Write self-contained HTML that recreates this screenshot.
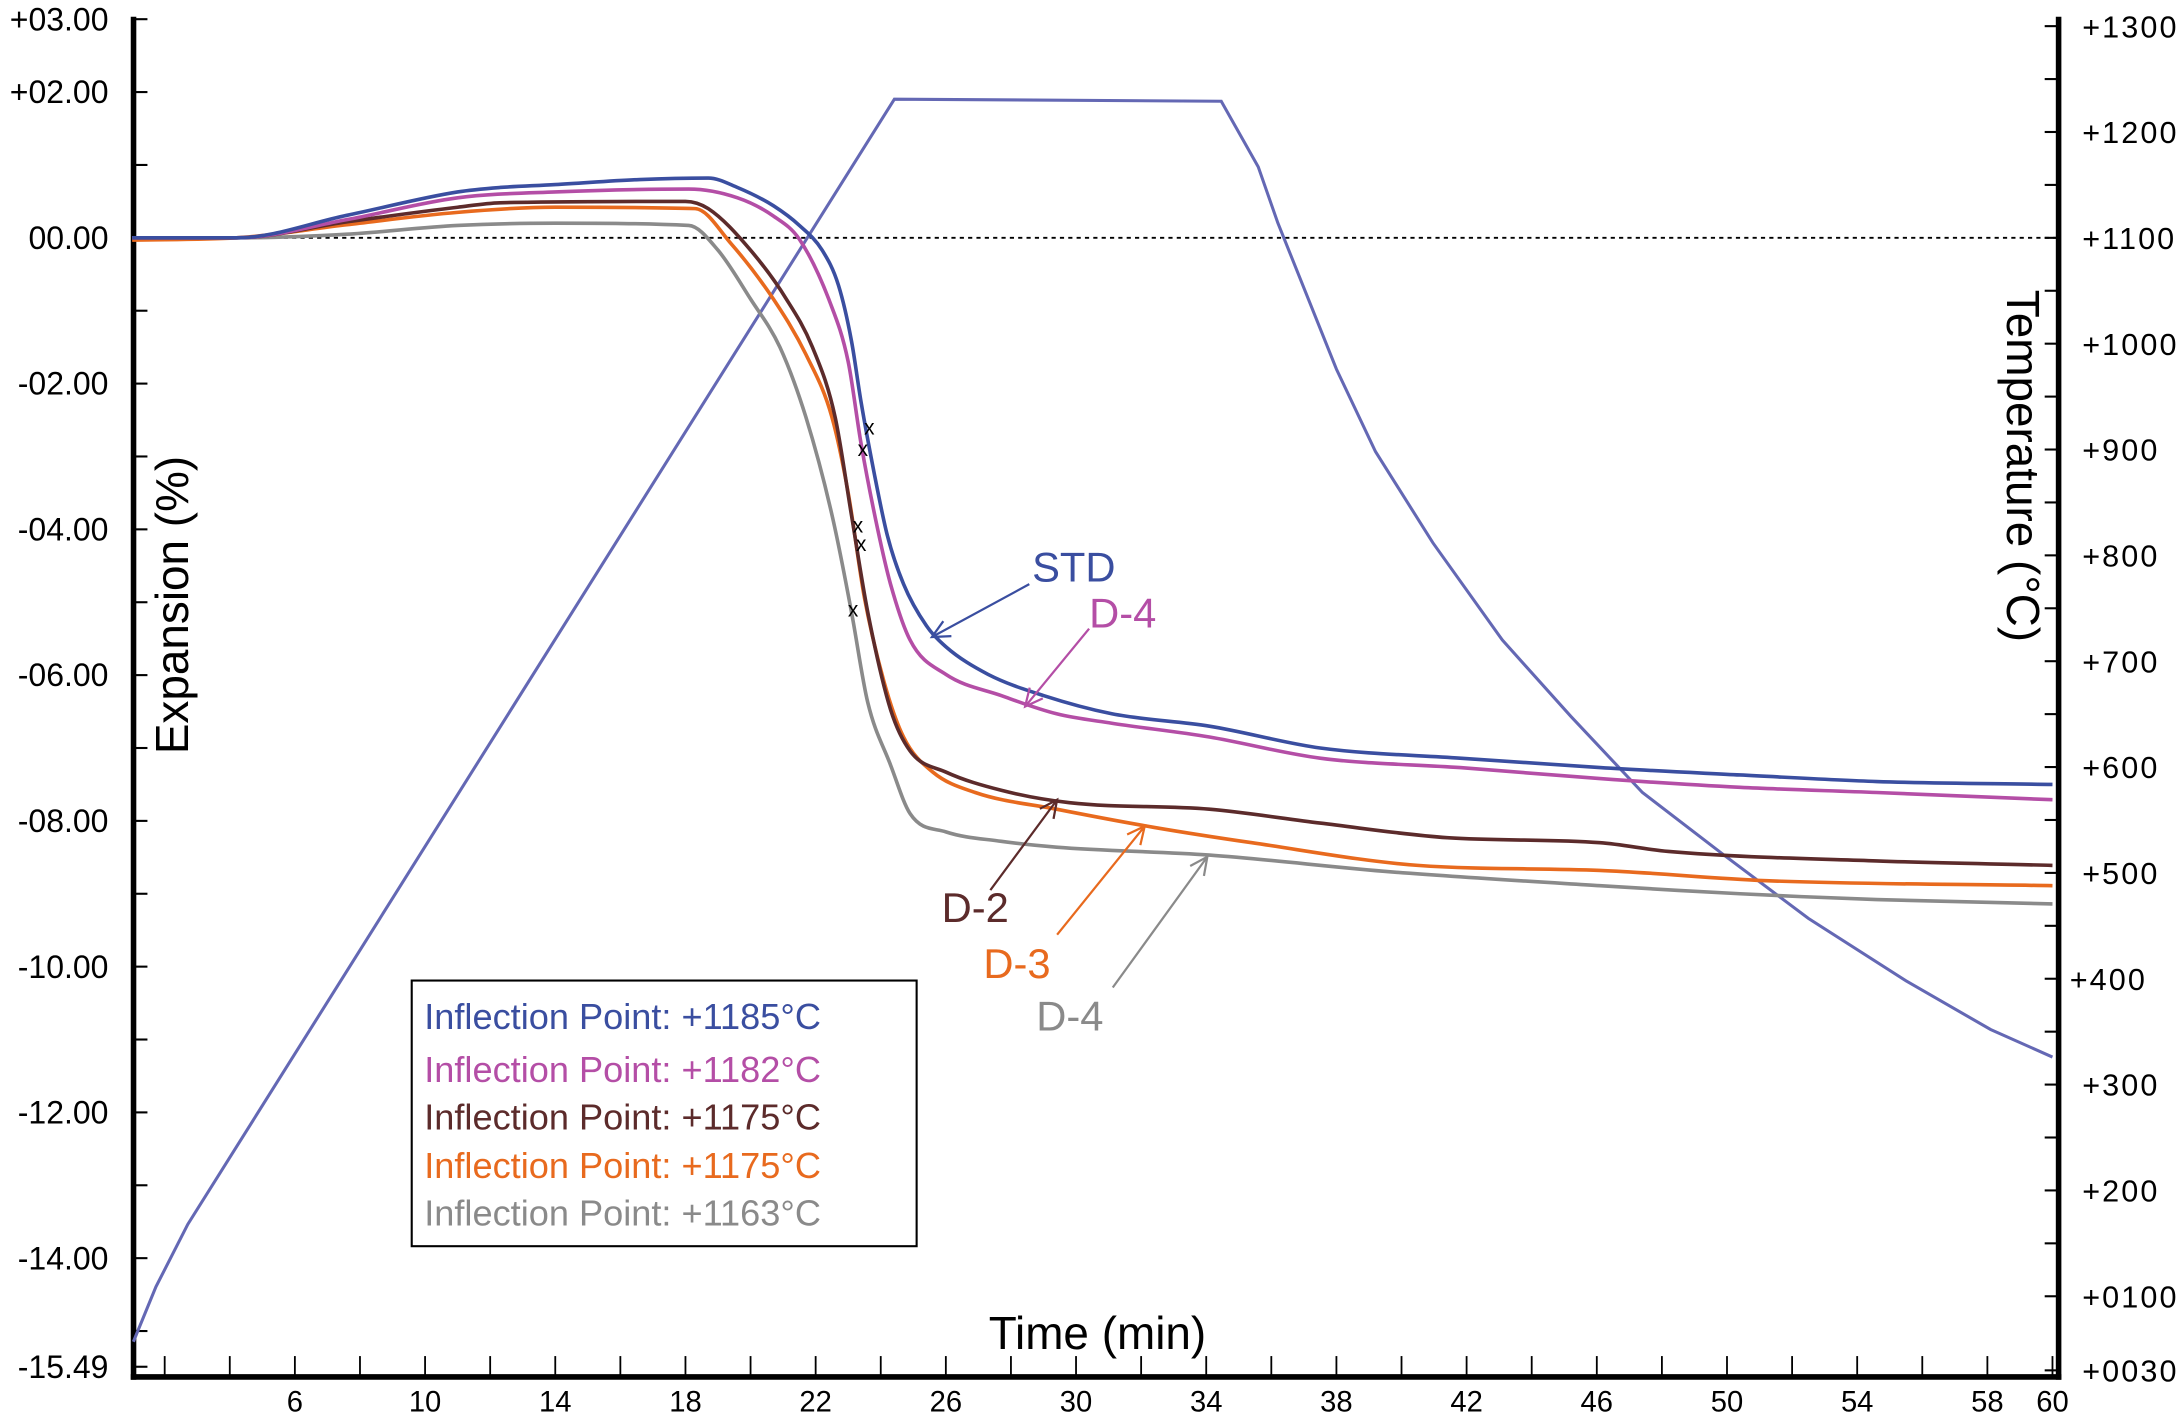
<!DOCTYPE html>
<html><head><meta charset="utf-8"><style>
html,body{margin:0;padding:0;background:#fff}
svg{display:block}
text{font-family:"Liberation Sans",Arial,sans-serif}
</style></head><body>
<svg id="chart" width="2181" height="1422" viewBox="0 0 1568 1022.4" preserveAspectRatio="none" xmlns="http://www.w3.org/2000/svg">
<g id="axes"></g>
<g id="series"></g>
<g id="notes"></g>
</svg>
<script>
// ---- data ----
const xTicks = [6,10,14,18,22,26,30,34,38,42,46,50,54,58,60];
const yTicks = [3,2,0,-2,-4,-6,-8,-10,-12,-14,-15.49];
const yTickLabels = ["+03.00","+02.00","00.00","-02.00","-04.00","-06.00","-08.00","-10.00","-12.00","-14.00","-15.49"];
const tTicks = [1300,1200,1100,1000,900,800,700,600,500,400,300,200,100,30];
const tTickLabels = ["+1300","+1200","+1100","+1000","+900","+800","+700","+600","+500","+400","+300","+200","+0100","+0030"];

const tempTime = [1.04,1.73,2.71,24.42,34.46,35.6,36.2,38.0,39.2,40.96,43.1,45.2,47.4,49.9,52.5,55.5,58.1,60];
const tempVal  = [57,109,168,1231,1229,1167,1114,976,898,812,720,648,576,517,457,398,352,326];

const stdTime = [1,4.2,7.6,11,12.3,14,16.6,18.7,19.6,20.7,21.5,22.2,22.7,23.1,23.4,23.8,24.2,24.7,25.4,26,27.3,29,31.1,34.1,37.5,41.8,46.1,50.4,54.6,60];
const stdVal  = [0,0,0.31,0.63,0.69,0.73,0.8,0.82,0.69,0.44,0.17,-0.17,-0.65,-1.41,-2.27,-3.23,-4.08,-4.75,-5.32,-5.61,-5.99,-6.28,-6.53,-6.7,-7.0,-7.14,-7.27,-7.37,-7.46,-7.5];

const d4mTime = [1,4.2,7.6,11,14,18.1,19.6,20.7,21.5,22.4,23.0,23.4,23.9,24.3,24.9,26.0,27.7,29.4,31.1,34.1,37.5,41.8,46.1,50.4,54.6,60];
const d4mVal  = [0,0,0.25,0.55,0.63,0.67,0.55,0.3,-0.02,-0.84,-1.7,-2.84,-3.99,-4.75,-5.52,-5.99,-6.28,-6.53,-6.66,-6.85,-7.14,-7.27,-7.42,-7.54,-7.61,-7.71];

const d2Time = [1,4.2,7.6,11,12.3,18,18.7,20.0,21.1,21.9,22.6,23.1,23.6,24.3,24.9,26.0,27.7,29.8,34.1,37.5,41.4,46.1,48.2,54.6,60];
const d2Val  = [0,0,0.22,0.42,0.48,0.5,0.4,-0.17,-0.84,-1.5,-2.46,-3.8,-5.13,-6.47,-7.04,-7.33,-7.58,-7.75,-7.84,-8.03,-8.23,-8.3,-8.42,-8.55,-8.61];

const d3Time = [1,4.2,7.6,11,14,18.3,19.4,20.7,21.7,22.5,23.0,23.5,24.1,24.7,25.6,26.9,29.4,32.4,35.4,40.5,46.1,51.2,60];
const d3Val  = [-0.03,0,0.18,0.35,0.42,0.4,-0.08,-0.84,-1.6,-2.46,-3.5,-4.94,-6.09,-6.85,-7.33,-7.61,-7.84,-8.09,-8.3,-8.61,-8.68,-8.82,-8.89];

const d4gTime = [1,4.2,7.6,11,14,18.1,19.0,20.0,20.9,21.7,22.5,23.1,23.6,24.3,24.9,26.0,27.7,29.4,34.1,39.7,46.1,50.4,54.6,60];
const d4gVal  = [0,0,0.05,0.17,0.2,0.17,-0.17,-0.84,-1.5,-2.46,-3.8,-5.13,-6.37,-7.23,-7.9,-8.15,-8.28,-8.36,-8.47,-8.7,-8.89,-9.0,-9.08,-9.14];

const inflTime = [23.65,23.45,23.3,23.4,23.15];
const inflVal  = [-2.6,-2.9,-3.95,-4.2,-5.1];

const legendLabels = ["Inflection Point: +1185\u00B0C","Inflection Point: +1182\u00B0C","Inflection Point: +1175\u00B0C","Inflection Point: +1175\u00B0C","Inflection Point: +1163\u00B0C"];
const legendColors = ["#3a4ea0","#b44ea6","#5c2b2b","#e86a1e","#8a8a8a"];

// ---- scales ----
const X = t => 212 + (t - 6) * 23.4;
const Y = v => 171 - 52.4 * v;
const T = c => 171 + (1100 - c) * 0.761;
const NS = "http://www.w3.org/2000/svg";
function mk(parent, tag, attrs, text){
  const e = document.createElementNS(NS, tag);
  for (const k in attrs) e.setAttribute(k, attrs[k]);
  if (text !== undefined) e.textContent = text;
  parent.appendChild(e);
  return e;
}
const axes = document.getElementById('axes');
const series = document.getElementById('series');
const notes = document.getElementById('notes');
const L = 96, R = 1480, TOP = 12, B = 990;

let zl = mk(axes,'line',{x1:L,y1:Y(0),x2:R,y2:Y(0),stroke:'#000','stroke-width':1.3,'stroke-dasharray':'3,3'});



let la = mk(axes,'line',{x1:L,y1:TOP,x2:L,y2:B+2,stroke:'#000','stroke-width':4});


let ra = mk(axes,'line',{x1:R,y1:TOP,x2:R,y2:B+2,stroke:'#000','stroke-width':4});


let ba = mk(axes,'line',{x1:L-2,y1:B,x2:R+2,y2:B,stroke:'#000','stroke-width':4});



for (let i=0;i<yTicks.length;i++){
  const y = Y(yTicks[i]);
  mk(axes,'line',{x1:L,y1:y,x2:L+10,y2:y,stroke:'#000','stroke-width':1.5});
  const t = mk(axes,'text',{x:78,y:y+8,'text-anchor':'end','font-size':23}, yTickLabels[i]);
  
  
}
for (let v=1; v>=-15; v-=2){
  mk(axes,'line',{x1:L,y1:Y(v),x2:L+10,y2:Y(v),stroke:'#000','stroke-width':1.5});
}
for (let i=0;i<tTicks.length;i++){
  const y = T(tTicks[i]);
  mk(axes,'line',{x1:R-10,y1:y,x2:R,y2:y,stroke:'#000','stroke-width':1.5});
  const t = mk(axes,'text',{x: tTicks[i]===400?1488:1497,y:y+8,'font-size':22,'letter-spacing':'1.5'}, tTickLabels[i]);
  
  
}
for (let c=1250; c>=150; c-=100){
  mk(axes,'line',{x1:R-10,y1:T(c),x2:R,y2:T(c),stroke:'#000','stroke-width':1.5});
}
for (let t=2; t<=60; t+=2){
  mk(axes,'line',{x1:X(t),y1:B,x2:X(t),y2:B-15,stroke:'#000','stroke-width':1.3});
}
for (let i=0;i<xTicks.length;i++){
  const t = mk(axes,'text',{x:X(xTicks[i]),y:1015,'text-anchor':'middle','font-size':21}, String(xTicks[i]));
  
  
}
let xt = mk(axes,'text',{x:789,y:970,'text-anchor':'middle','font-size':33},'Time (min)');


let yt = mk(axes,'text',{x:0,y:0,'text-anchor':'middle','font-size':33,transform:'translate(135,435) rotate(-90)'},'Expansion (%)');


let tt = mk(axes,'text',{x:0,y:0,'text-anchor':'middle','font-size':33,transform:'translate(1443,335) rotate(90)'},'Temperature (\u00B0C)');



function path(ts, vs, yf){
  return ts.map((t,i)=>(i?'L':'M')+X(t).toFixed(1)+','+yf(vs[i]).toFixed(1)).join(' ');
}
// monotone cubic smoothing (Fritsch-Carlson)
function smoothPath(ts, vs, yf){
  const xs = ts.map(X), ys = vs.map(yf), n = xs.length;
  const d = [], m = [];
  for (let i=0;i<n-1;i++) d.push((ys[i+1]-ys[i])/(xs[i+1]-xs[i]));
  m.push(d[0]);
  for (let i=1;i<n-1;i++) m.push(d[i-1]*d[i]<=0 ? 0 : (d[i-1]+d[i])/2);
  m.push(d[n-2]);
  for (let i=0;i<n-1;i++){
    if (d[i]===0){ m[i]=0; m[i+1]=0; continue; }
    const a=m[i]/d[i], b=m[i+1]/d[i], s=a*a+b*b;
    if (s>9){ const tau=3/Math.sqrt(s); m[i]=tau*a*d[i]; m[i+1]=tau*b*d[i]; }
  }
  let p = 'M'+xs[0].toFixed(1)+','+ys[0].toFixed(1);
  for (let i=0;i<n-1;i++){
    const h = xs[i+1]-xs[i];
    p += ' C'+(xs[i]+h/3).toFixed(1)+','+(ys[i]+m[i]*h/3).toFixed(1)+' '+
         (xs[i+1]-h/3).toFixed(1)+','+(ys[i+1]-m[i+1]*h/3).toFixed(1)+' '+
         xs[i+1].toFixed(1)+','+ys[i+1].toFixed(1);
  }
  return p;
}
let tp = mk(series,'path',{d:path(tempTime,tempVal,T),fill:'none',stroke:'#6468b4','stroke-width':2.2});


const exp = [
  [d4gTime,d4gVal,'#8a8a8a','d4-gray-line'],
  [d3Time,d3Val,'#e86a1e','d3-line'],
  [d2Time,d2Val,'#5c2b2b','d2-line'],
  [d4mTime,d4mVal,'#b44ea6','d4-magenta-line'],
  [stdTime,stdVal,'#3a4ea0','std-line']
];
for (const s of exp){
  const p = mk(series,'path',{d:smoothPath(s[0],s[1],Y),fill:'none',stroke:s[2],'stroke-width':2.6,'stroke-linejoin':'round'});
  
  
}
for (let i=0;i<inflTime.length;i++){
  const m = mk(series,'text',{x:X(inflTime[i]),y:Y(inflVal[i])+5,'text-anchor':'middle','font-size':15},'x');
  
  
}

const ann = [
  ['STD','#3a4ea0',742,418,740,420,670,458,'std-annotation'],
  ['D-4','#b44ea6',783,451,783,452,737,508,'d4-magenta-annotation'],
  ['D-2','#5c2b2b',677,663,712,640,760,575,'d2-annotation'],
  ['D-3','#e86a1e',707,703,760,672,823,594,'d3-annotation'],
  ['D-4','#8a8a8a',745,741,800,710,868,616,'d4-gray-annotation']
];
for (const a of ann){
  const t = mk(notes,'text',{x:a[2],y:a[3],'font-size':30,fill:a[1]},a[0]);
  
  
  const x1=a[4],y1=a[5],x2=a[6],y2=a[7];
  const ang=Math.atan2(y2-y1,x2-x1), h=14;
  const d='M'+x1+','+y1+' L'+x2+','+y2+
    ' M'+(x2-h*Math.cos(ang-0.45))+','+(y2-h*Math.sin(ang-0.45))+' L'+x2+','+y2+
    ' L'+(x2-h*Math.cos(ang+0.45))+','+(y2-h*Math.sin(ang+0.45));
  const ar = mk(notes,'path',{d:d,fill:'none',stroke:a[1],'stroke-width':1.6});
  
  
}

const lg = mk(notes,'g',{});


mk(lg,'rect',{x:296,y:705,width:363,height:191,fill:'#fff',stroke:'#000','stroke-width':1.5});
const ly = [740,778,812,847,881];
for (let i=0;i<legendLabels.length;i++){
  const t = mk(lg,'text',{x:305,y:ly[i],'font-size':26,fill:legendColors[i]},legendLabels[i]);
  
  
}
</script>
</body></html>
